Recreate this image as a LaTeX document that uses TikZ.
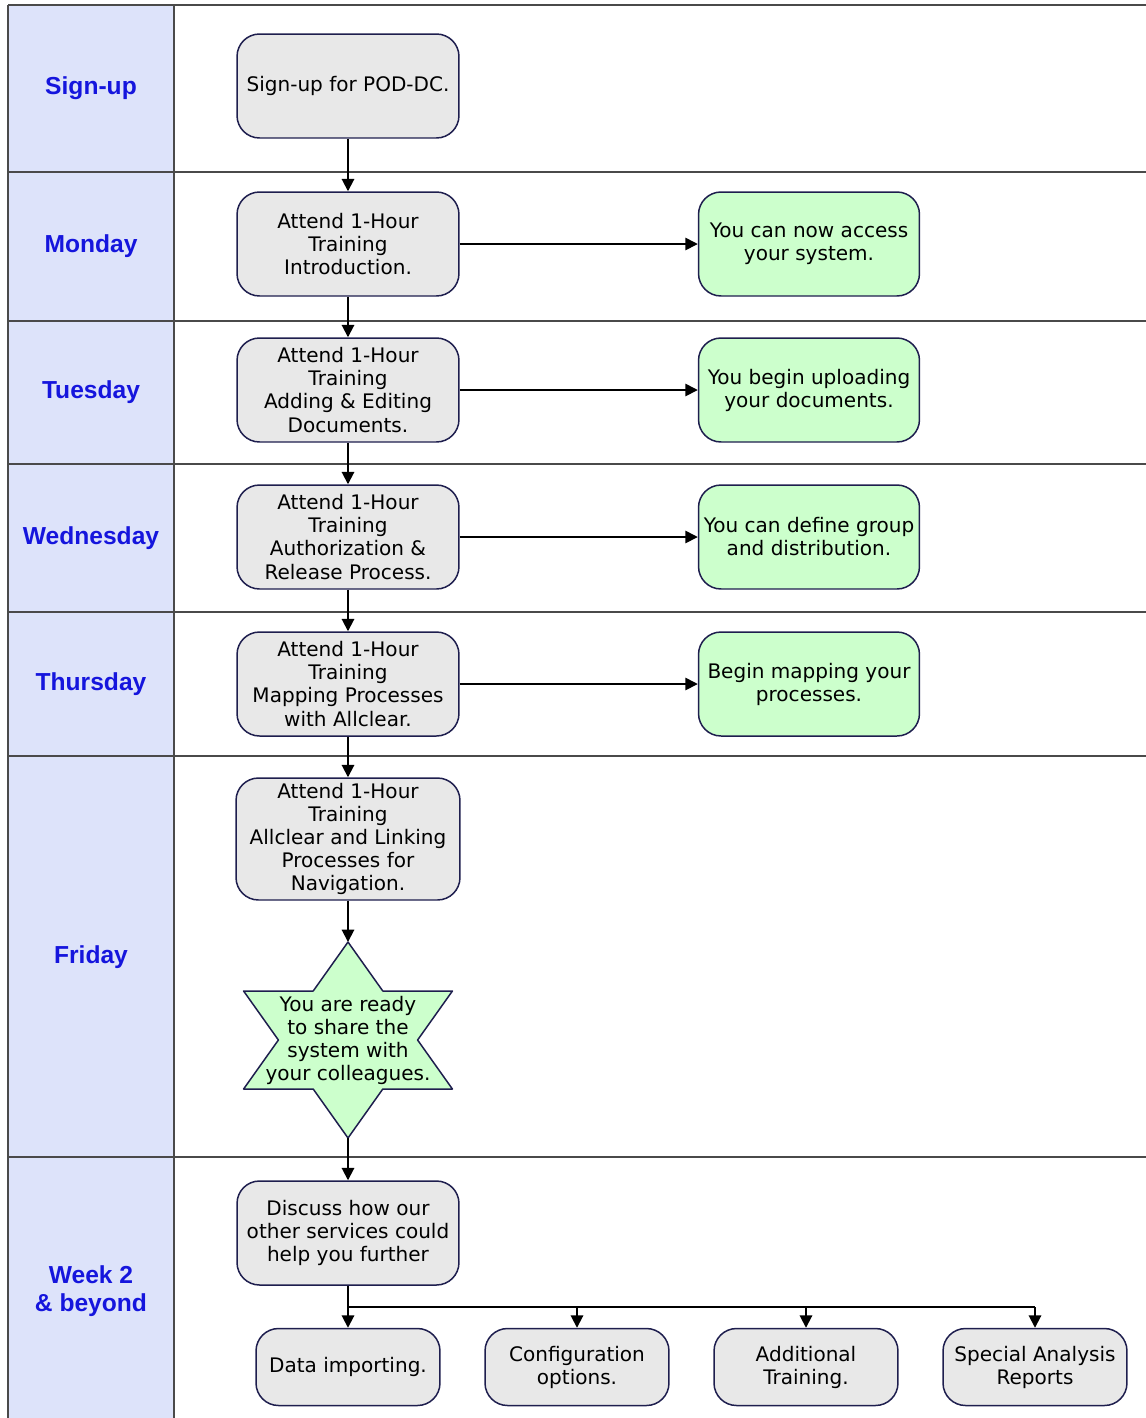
\documentclass[tikz,border=0pt]{standalone}
\usepackage{fontspec}
\setmainfont{DejaVu Sans}
\newfontfamily\lanefont{Liberation Sans}
\usetikzlibrary{arrows.meta}
\definecolor{lanefill}{HTML}{DDE3FA}
\definecolor{laneblue}{HTML}{1515DD}
\definecolor{lanegray}{HTML}{4A4A4A}
\definecolor{boxgray}{HTML}{E8E8E8}
\definecolor{boxgreen}{HTML}{CCFFCC}
\definecolor{boxline}{HTML}{1E1E4E}
\begin{document}
\begin{tikzpicture}[x=0.02cm, y=-0.02cm, line join=round, >={Triangle[length=7pt,width=7pt]},
  font=\fontsize{11.4}{13.1}\selectfont,
  lane/.style={font=\lanefont\bfseries\fontsize{14}{16}\selectfont, text=laneblue, align=center},
  laneline/.style={draw=lanegray, line width=1.1pt},
  graybox/.style={draw=boxline, fill=boxgray, line width=0.85pt, rounded corners=0.45cm,
    minimum width=4.44cm, minimum height=2.08cm, align=center, inner sep=1pt},
  greenbox/.style={graybox, fill=boxgreen, minimum width=4.42cm},
  smallbox/.style={graybox, minimum width=3.68cm, minimum height=1.54cm},
  starbox/.style={draw=boxline, fill=boxgreen, line width=0.85pt},
  link/.style={->, line width=1.1pt},
  sidelink/.style={->, line width=0.85pt}]
\useasboundingbox (0,0) rectangle (1146,1418);
\fill[lanefill] (8,5) rectangle (174,1418);
\foreach \y in {5,172,321,464,612,756,1157}\draw[laneline] (8,\y)--(1146,\y);
\draw[laneline] (8,5)--(8,1418) (174,5)--(174,1418);
\foreach \y/\t [count=\i] in {88/Sign-up,246/Monday,392/Tuesday,538/Wednesday,684/Thursday,957/Friday}
  \node[lane] (lane\i) at (91,\y) {\t};
\node[lane] (lane7) at (91,1291) {Week 2\\\& beyond};
\node[graybox] (signup) at (348,86) {Sign-up for POD-DC.};
\node[graybox] (mon) at (348,244) {Attend 1-Hour\\Training\\Introduction.};
\node[graybox] (tue) at (348,390) {Attend 1-Hour\\Training\\Adding \& Editing\\Documents.};
\node[graybox] (wed) at (348,537) {Attend 1-Hour\\Training\\Authorization \&\\Release Process.};
\node[graybox] (thu) at (348,684) {Attend 1-Hour\\Training\\Mapping Processes\\with Allclear.};
\node[graybox, minimum width=4.48cm, minimum height=2.44cm] (fri) at (348,839)
  {Attend 1-Hour\\Training\\Allclear and Linking\\Processes for\\Navigation.};
\node[greenbox] (monres) at (809,244) {You can now access\\your system.};
\node[greenbox] (tueres) at (809,390) {You begin uploading\\your documents.};
\node[greenbox] (wedres) at (809,537) {You can define group\\and distribution.};
\node[greenbox] (thures) at (809,684) {Begin mapping your\\processes.};
\coordinate (ready) at (348,1040);
\draw[starbox, shift={(ready)}] (0,-98) coordinate (readytop) -- (34.8,-49) -- (104.4,-49) -- (69.6,0)
  -- (104.4,49) -- (34.8,49) -- (0,98) coordinate (readybot) -- (-34.8,49) -- (-104.4,49)
  -- (-69.6,0) -- (-104.4,-49) -- (-34.8,-49) -- cycle;
\node[align=center, inner sep=0pt] (readytext) at (ready) {You are ready\\to share the\\system with\\your colleagues.};
\node[graybox] (discuss) at (348,1233) {Discuss how our\\other services could\\help you further};
\node[smallbox] (import) at (348,1367) {Data importing.};
\node[smallbox] (config) at (577,1367) {Configuration\\options.};
\node[smallbox] (extra) at (806,1367) {Additional\\Training.};
\node[smallbox] (reports) at (1035,1367) {Special Analysis\\Reports};
\draw[link] (signup)--(mon);
\draw[link] (mon)--(tue);
\draw[link] (tue)--(wed);
\draw[link] (wed)--(thu);
\draw[link] (thu)--(fri);
\draw[link] (fri)--(readytop);
\draw[link] (readybot)--(discuss);
\draw[link] (discuss)--(import);
\foreach \b in {mon,tue,wed,thu}\draw[sidelink] (\b)--(\b res);
\coordinate (branch) at (348,1307);
\draw[line width=0.85pt] (branch)--(branch -| reports);
\foreach \b in {config,extra,reports}\draw[link] (branch -| \b)--(\b);
\end{tikzpicture}
\end{document}
